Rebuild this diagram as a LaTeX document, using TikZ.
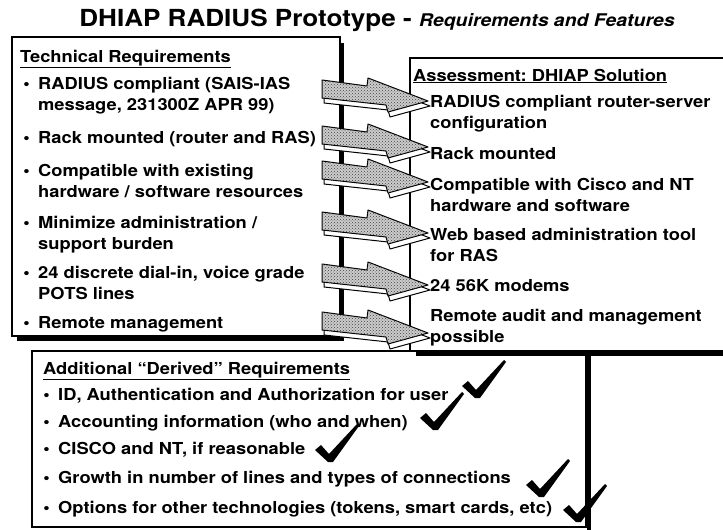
\documentclass[tikz,border=0pt]{standalone}
\usepackage{fontspec}
\setmainfont{TeX Gyre Heros}[FakeStretch=1.11]
\usetikzlibrary{patterns}
\frenchspacing

\begin{document}
\begin{tikzpicture}[x=1pt, y=-1pt,
  panel/.style={draw, fill=white, line width=1.1pt},
  shadowline/.style={line width=4.5pt},
  hdr/.style={anchor=base west, inner sep=0pt, font=\bfseries\fontsize{16.5}{21}\selectfont},
  item/.style={anchor=base west, inner sep=0pt, align=left, font=\bfseries\fontsize{16.5}{21}\selectfont},
  bul/.style={anchor=base east, inner sep=0pt, font=\bfseries\fontsize{16.5}{21}\selectfont},
  barrow/.style={draw, line width=1pt, line join=round, fill=gray!40, postaction={pattern=crosshatch dots, pattern color=black!75}},
  blockarrow/.pic={
    \filldraw[fill=white, line width=1pt, line join=round, shift={(2,5)}] (-106,-21) -- (-61,-15) -- (-60,-23) -- (0,0) -- (-40,11) -- (-42,4) -- (-106,-3) -- cycle;
    \draw[barrow] (-106,-21) -- (-61,-15) -- (-60,-23) -- (0,0) -- (-40,11) -- (-42,4) -- (-106,-3) -- cycle;},
  okmark/.pic={\fill (-16,-12) -- (-10,-17) -- (-2,-8) -- (26,-38) -- (28,-36) -- (2,0) -- (-3,0) -- cycle;}]
\useasboundingbox (0,0) rectangle (723,530);

\node[anchor=base, inner sep=0pt, font=\bfseries\fontsize{23.5}{26}\selectfont] (title) at (377,27) {DHIAP RADIUS Prototype - {\itshape\fontsize{17.5}{20}\selectfont Requirements and Features}};

% boxes
\draw[panel] (12,37) rectangle (340,336);
\draw[shadowline] (342,43) -- (342,339) -- (17,339);
\draw[panel] (32,351) rectangle (586,527);
\draw[shadowline] (589,353) -- (589,531);
\draw[panel] (410,58) rectangle (730,351);
\draw[shadowline] (416,354) -- (730,354);

% technical requirements (base = last line)
\node[hdr] (th) at (20,62) {\underline{Technical Requirements}};
\node[item] (t1) at (38,110) {RADIUS compliant (SAIS-IAS\\message, 231300Z APR 99)};
\node[item] (t2) at (38,143) {Rack mounted (router and RAS)};
\node[item] (t3) at (38,197) {Compatible with existing\\hardware / software resources};
\node[item] (t4) at (38,249) {Minimize administration /\\support burden};
\node[item] (t5) at (38,299) {24 discrete dial-in, voice grade\\POTS lines};
\node[item] (t6) at (38,328) {Remote management};

% assessment
\node[hdr] (ah) at (413,81) {\underline{Assessment: DHIAP Solution}};
\node[item] (a1) at (430,128) {RADIUS compliant router-server\\configuration};
\node[item] (a2) at (430,159) {Rack mounted};
\node[item] (a3) at (430,211) {Compatible with Cisco and NT\\hardware and software};
\node[item] (a4) at (430,261) {Web based administration tool\\for RAS};
\node[item] (a5) at (430,291) {24 56K modems};
\node[item] (a6) at (430,342) {Remote audit and management\\possible};

% derived requirements
\node[hdr] (dh) at (43,374) {\underline{Additional ``Derived'' Requirements}};
\node[item] (d1) at (58,400) {ID, Authentication and Authorization for user};
\node[item] (d2) at (58,427) {Accounting information (who and when)};
\node[item] (d3) at (58,454) {CISCO and NT, if reasonable};
\node[item] (d4) at (58,483) {Growth in number of lines and types of connections};
\node[item] (d5) at (58,513) {Options for other technologies (tokens, smart cards, etc)};

\foreach \n in {2,6} \node[bul] at ([xshift=-8pt]t\n.base west) {\textbullet};
\foreach \n in {1,3,4,5} \node[bul] at ([xshift=-8pt, yshift=21pt]t\n.base west) {\textbullet};
\foreach \n in {1,...,5} \node[bul] at ([xshift=-8pt]d\n.base west) {\textbullet};

% arrows
\foreach \n/\y in {1/101,2/147,3/182,4/233,5/285,6/333} \coordinate (p\n) at (428,\y);
\foreach \n in {1,...,6} \pic at (p\n) {blockarrow};

% checks
\pic at (478,398) {okmark};
\pic at (436,430) {okmark};
\pic at (331,462) {okmark};
\pic at (542,497) {okmark};
\pic at (579,522) {okmark};
\end{tikzpicture}
\end{document}
